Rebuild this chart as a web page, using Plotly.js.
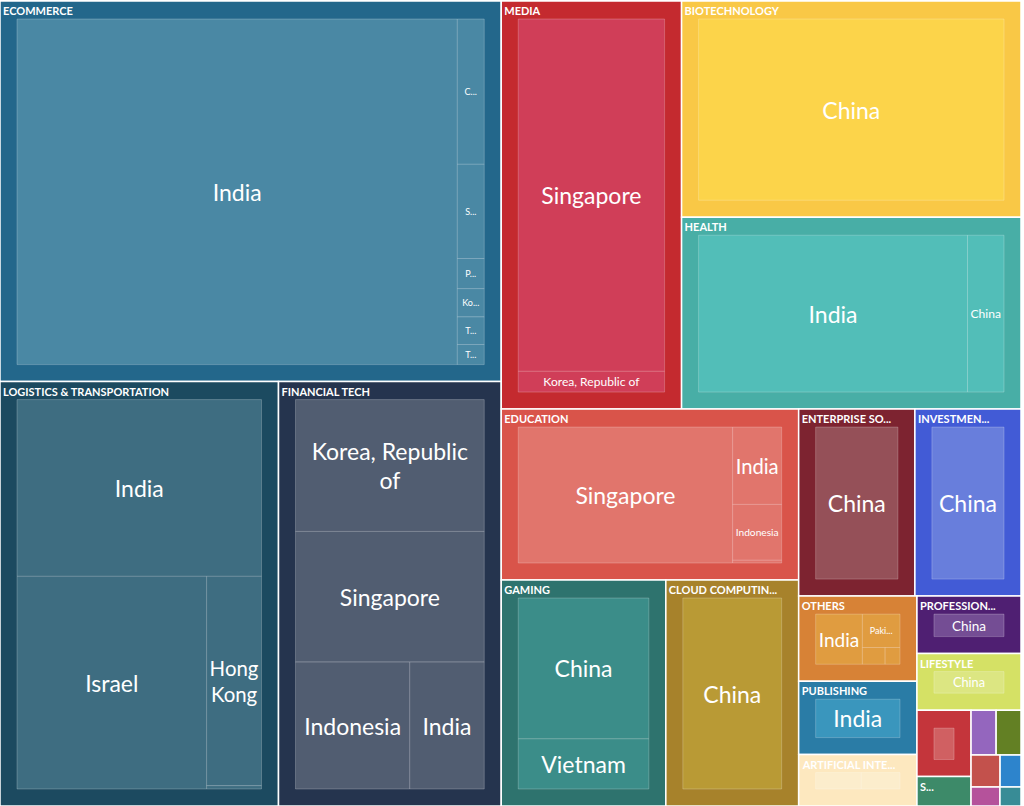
<!DOCTYPE html>
<html>
<head>
<meta charset="utf-8">
<script src="https://cdn.plot.ly/plotly-3.0.1.min.js"></script>
<style>
html,body{margin:0;padding:0;background:#fff;overflow:hidden;width:1024px;height:806px;}
#chart{position:absolute;left:-17px;top:-23px;}
</style>
</head>
<body>
<div id="chart"></div>
<script>
// Sectors (top level)
const sectors = ["ECOMMERCE", "LOGISTICS & TRANSPORTATION", "FINANCIAL TECH", "MEDIA", "BIOTECHNOLOGY", "HEALTH",
  "EDUCATION", "GAMING", "CLOUD COMPUTING", "ENTERPRISE SOFTWARE", "INVESTMENTS", "OTHERS", "PUBLISHING",
  "ARTIFICIAL INTELLIGENCE", "PROFESSIONAL SERVICES", "LIFESTYLE", "REAL ESTATE", "SECURITY", "MARKETING",
  "AGRICULTURE", "TRAVEL", "ENERGY", "HUMAN RESOURCES", "AUTOMOTIVE"];
// Header text as it appears in the reference (long names cut short)
const sectorShown = ["ECOMMERCE", "LOGISTICS & TRANSPORTATION", "FINANCIAL TECH", "MEDIA", "BIOTECHNOLOGY", "HEALTH",
  "EDUCATION", "GAMING", "CLOUD COMPUTIN...", "ENTERPRISE SO...", "INVESTMEN...", "OTHERS", "PUBLISHING",
  "ARTIFICIAL INTE...", "PROFESSION...", "LIFESTYLE", "", "S...", "",
  "", "", "", "", ""];
const sectorColors = ["#23678b", "#1c4a60", "#25344e", "#c42a2f", "#f9c846", "#48aea6",
  "#d9544a", "#2e736e", "#a7822b", "#7d2330", "#425bd6", "#d78236", "#2a7ca6",
  "#fde8bf", "#4f1f72", "#d5e165", "#c4353b", "#3d8a69", "#9466be",
  "#638024", "#c3514c", "#2d84cc", "#b5529b", "#388c96"];
const leafColors = ["#4a88a4", "#3e6d81", "#515d71", "#d03e58", "#fcd44a", "#52beb8",
  "#e1756c", "#3b8d89", "#b99a35", "#955058", "#687edc", "#e09c40", "#3a96bd",
  "#fcedcc", "#744d94", "#dce682", "#d06062", "#5aa083", "#a883cc",
  "#809a4e", "#d07470", "#559dd8", "#c676b0", "#5ba2ab"];

// Leaves: sector, country, value
const leafSector = [
  "ECOMMERCE","ECOMMERCE","ECOMMERCE","ECOMMERCE","ECOMMERCE","ECOMMERCE","ECOMMERCE",
  "LOGISTICS & TRANSPORTATION","LOGISTICS & TRANSPORTATION","LOGISTICS & TRANSPORTATION","LOGISTICS & TRANSPORTATION",
  "FINANCIAL TECH","FINANCIAL TECH","FINANCIAL TECH","FINANCIAL TECH",
  "MEDIA","MEDIA",
  "BIOTECHNOLOGY",
  "HEALTH","HEALTH",
  "EDUCATION","EDUCATION","EDUCATION","EDUCATION",
  "GAMING","GAMING",
  "CLOUD COMPUTING",
  "ENTERPRISE SOFTWARE",
  "INVESTMENTS",
  "OTHERS","OTHERS","OTHERS","OTHERS",
  "PUBLISHING",
  "ARTIFICIAL INTELLIGENCE","ARTIFICIAL INTELLIGENCE",
  "PROFESSIONAL SERVICES",
  "LIFESTYLE",
  "REAL ESTATE",
  "SECURITY",
  "MARKETING",
  "AGRICULTURE",
  "TRAVEL",
  "ENERGY",
  "HUMAN RESOURCES",
  "AUTOMOTIVE"];
const leafCountry = [
  "India","China","Singapore","Philippines","Korea, Republic of","Thailand","Taiwan",
  "India","Israel","Hong Kong","Japan",
  "Korea, Republic of","Singapore","Indonesia","India",
  "Singapore","Korea, Republic of",
  "China",
  "India","China",
  "Singapore","India","Indonesia","Malaysia",
  "China","Vietnam",
  "China",
  "China",
  "China",
  "India","Pakistan","Malaysia","Japan",
  "India",
  "China","India",
  "China",
  "China",
  "China",
  "India",
  "China",
  "India",
  "China",
  "China",
  "India",
  "China"];
const leafValues = [
  1803, 46.3, 30.0, 9.6, 9.0, 8.8, 6.4,
  538, 502, 143, 2.3,
  321, 318, 187, 122,
  697, 41,
  736,
  575, 78,
  415, 54, 39, 1.9,
  275, 98,
  301,
  218,
  199,
  56, 30, 9.1, 5.9,
  87,
  33, 28,
  60,
  59,
  36,
  16,
  11.3,
  11.2,
  9.3,
  6.7,
  5.5,
  4.0];
// Leaf text as it appears in the reference (wrapped or cut short)
const leafShown = {
  "ECOMMERCE/China": "C...",
  "ECOMMERCE/Singapore": "S...",
  "ECOMMERCE/Philippines": "P...",
  "ECOMMERCE/Korea, Republic of": "Ko...",
  "ECOMMERCE/Thailand": "T...",
  "ECOMMERCE/Taiwan": "T...",
  "LOGISTICS & TRANSPORTATION/Hong Kong": "Hong<br>Kong",
  "FINANCIAL TECH/Korea, Republic of": "Korea, Republic<br>of",
  "OTHERS/Pakistan": "Paki..."
};
// Leaves whose label is not visible in the reference
const leafHidden = ["LOGISTICS & TRANSPORTATION/Japan", "EDUCATION/Malaysia", "OTHERS/Malaysia", "OTHERS/Japan",
  "ARTIFICIAL INTELLIGENCE/China", "ARTIFICIAL INTELLIGENCE/India", "REAL ESTATE/China",
  "SECURITY/India", "MARKETING/China", "AGRICULTURE/India", "TRAVEL/China", "ENERGY/China",
  "HUMAN RESOURCES/India", "AUTOMOTIVE/China"];
const smallLeaf = ["ECOMMERCE/China", "ECOMMERCE/Singapore", "ECOMMERCE/Philippines", "ECOMMERCE/Korea, Republic of",
  "ECOMMERCE/Thailand", "ECOMMERCE/Taiwan", "OTHERS/Pakistan"];

const FONT = "Lato, 'Noto Sans', sans-serif";
const CLEAR = "rgba(0,0,0,0)";
const ids = [], parents = [], values = [];
const fills = [], boxLabels = [], headLabels = [];
const lineColors = [], lineWidths = [], fontSizes = [];
sectors.forEach((s, i) => {
  let total = 0;
  leafSector.forEach((ls, j) => { if (ls === s) total += leafValues[j]; });
  ids.push(s); parents.push(""); values.push(total);
  fills.push(sectorColors[i]);
  boxLabels.push(" ");
  headLabels.push(sectorShown[i] || " ");
  lineColors.push("#ffffff"); lineWidths.push(1.5);
  fontSizes.push(12);
});
leafSector.forEach((s, j) => {
  const id = s + "/" + leafCountry[j];
  const hidden = leafHidden.indexOf(id) >= 0;
  ids.push(id); parents.push(s); values.push(leafValues[j]);
  fills.push(leafColors[sectors.indexOf(s)]);
  boxLabels.push(hidden ? " " : (leafShown[id] || leafCountry[j]));
  headLabels.push(" ");
  lineColors.push("rgba(255,255,255,0.22)"); lineWidths.push(1);
  fontSizes.push(smallLeaf.indexOf(id) >= 0 ? 9 : 23);
});

// Plot is a little larger than the window so the hidden root's padding falls outside it
const W = 1055, H = 846, SHIFT_X = 14, SHIFT_Y = 6;
const common = {
  type: "treemap",
  ids: ids, parents: parents, values: values,
  branchvalues: "total",
  sort: true,
  textinfo: "label",
  tiling: { pad: 0, packing: "binary" },
  pathbar: { visible: false },
  leaf: { opacity: 1 },
  hoverinfo: "skip"
};

// Coloured boxes with centred country labels
const boxes = Object.assign({}, common, {
  labels: boxLabels,
  domain: { x: [0, 1], y: [0, (H - SHIFT_Y) / H] },
  textposition: "middle center",
  textfont: { family: FONT, size: fontSizes, color: "#ffffff" },
  marker: {
    colors: fills,
    line: { color: lineColors, width: lineWidths },
    pad: { t: 18, l: 17, r: 17, b: 17 },
    depthfade: false
  }
});
// Same layout on top, transparent, carrying the left-aligned sector headers
const headers = Object.assign({}, common, {
  labels: headLabels,
  domain: { x: [SHIFT_X / W, (W - SHIFT_X) / W], y: [0, 1] },
  textposition: "top left",
  textfont: { family: FONT, size: 11, color: "#ffffff", weight: "bold" },
  marker: {
    colors: ids.map(() => CLEAR),
    line: { color: CLEAR, width: 0 },
    pad: { t: 18 + SHIFT_Y, l: 3, r: 3, b: 17 },
    depthfade: false
  }
});

Plotly.newPlot("chart", [boxes, headers], {
  width: W, height: H,
  margin: { l: 0, r: 0, t: 0, b: 0 },
  paper_bgcolor: "rgba(0,0,0,0)",
  font: { family: FONT }
}, { displayModeBar: false, staticPlot: true });
</script>
</body>
</html>
